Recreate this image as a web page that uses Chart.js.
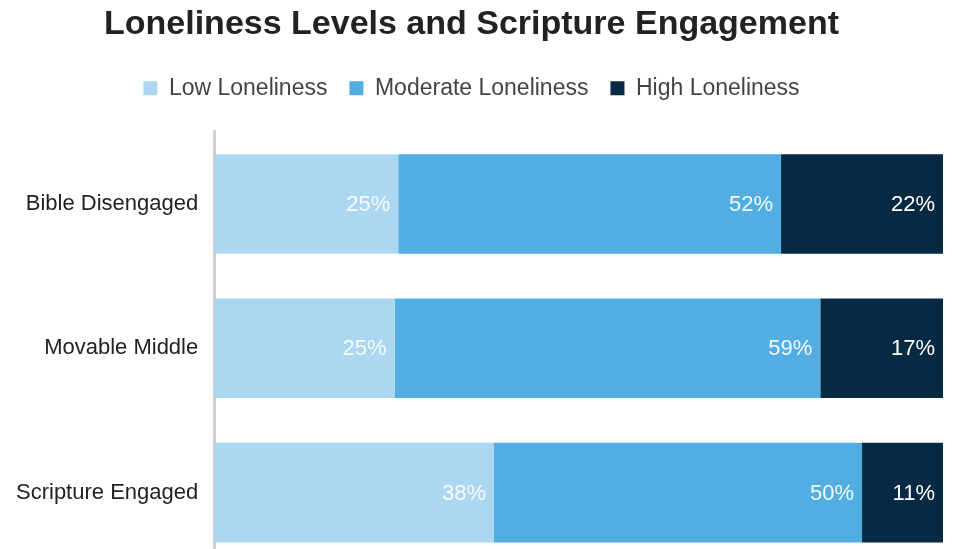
<!DOCTYPE html>
<html>
<head>
<meta charset="utf-8">
<script src="https://cdn.jsdelivr.net/npm/chart.js@4.4.1/dist/chart.umd.min.js"></script>
<style>
  html, body { margin: 0; padding: 0; background: #fff; overflow: hidden; }
  canvas { display: block; }
</style>
</head>
<body>
<canvas id="lonelyChart" width="977" height="594"></canvas>
<script>
// groups and shares as printed on the bars
const groups = ['Bible Disengaged', 'Movable Middle', 'Scripture Engaged'];
const lowLoneliness = [25, 25, 38];
const moderateLoneliness = [52, 59, 50];
const highLoneliness = [22, 17, 11];

// printed numbers are rounded, the bars themselves fill 100%
function share(series, i) {
    const total = lowLoneliness[i] + moderateLoneliness[i] + highLoneliness[i];
    return series[i] / total * 100;
}

const sans = "'Liberation Sans', Arial, sans-serif";

// labels inside the end of each segment
const segmentLabels = {
    id: 'segmentLabels',
    afterDatasetsDraw(chart) {
        const ctx = chart.ctx;
        ctx.save();
        ctx.font = '22px ' + sans;
        ctx.textAlign = 'right';
        ctx.textBaseline = 'middle';
        chart.data.datasets.forEach((ds, di) => {
            chart.getDatasetMeta(di).data.forEach((bar, i) => {
                ctx.fillStyle = ds.labelColor;
                ctx.fillText(ds.raw[i] + '%', bar.x - 8, bar.y + 1);
            });
        });
        ctx.restore();
    }
};

// extra room under the legend
const legendGap = {
    id: 'legendGap',
    beforeInit(chart) {
        const fit = chart.legend.fit;
        chart.legend.fit = function() {
            fit.bind(chart.legend)();
            this.height += 22;
        };
    }
};

const ctx = document.getElementById('lonelyChart').getContext('2d');
new Chart(ctx, {
    type: 'bar',
    data: {
        labels: groups,
        datasets: [
            {
                label: 'Low Loneliness',
                raw: lowLoneliness,
                data: groups.map((g, i) => share(lowLoneliness, i)),
                backgroundColor: '#abd7f0',
                labelColor: 'rgba(255,255,255,0.9)'
            },
            {
                label: 'Moderate Loneliness',
                raw: moderateLoneliness,
                data: groups.map((g, i) => share(moderateLoneliness, i)),
                backgroundColor: '#52aee2',
                labelColor: 'rgba(255,255,255,0.92)'
            },
            {
                label: 'High Loneliness',
                raw: highLoneliness,
                data: groups.map((g, i) => share(highLoneliness, i)),
                backgroundColor: '#062a44',
                labelColor: '#ffffff'
            }
        ]
    },
    options: {
        indexAxis: 'y',
        responsive: false,
        animation: false,
        layout: { padding: { left: 0, right: 34, top: 0, bottom: 0 } },
        datasets: { bar: { categoryPercentage: 1, barPercentage: 0.69 } },
        plugins: {
            title: {
                display: true,
                text: 'Loneliness Levels and Scripture Engagement',
                color: '#222',
                font: { family: sans, size: 34, weight: 'bold' },
                padding: { top: 4, bottom: 10 }
            },
            legend: {
                position: 'top',
                labels: {
                    color: '#444',
                    boxWidth: 14,
                    boxHeight: 14,
                    padding: 22,
                    font: { family: sans, size: 23 }
                }
            },
            tooltip: { enabled: false }
        },
        scales: {
            x: {
                stacked: true,
                display: false,
                min: 0,
                max: 100
            },
            y: {
                stacked: true,
                grid: { display: false, drawTicks: false },
                border: { display: true, color: '#cfcfcf', width: 3 },
                ticks: {
                    color: '#222',
                    padding: 16,
                    font: { family: sans, size: 22 }
                }
            }
        }
    },
    plugins: [segmentLabels, legendGap]
});
</script>
</body>
</html>
